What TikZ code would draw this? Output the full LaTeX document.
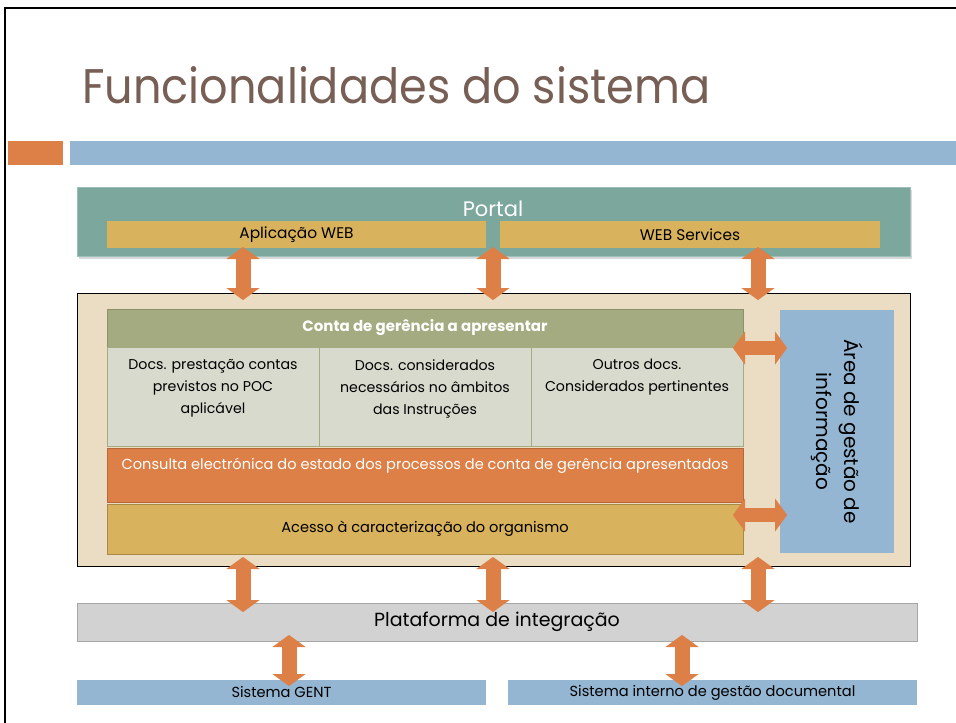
\documentclass[tikz,border=0pt]{standalone}
\usepackage{graphicx}
\usepackage{fontspec}
\setmainfont{Poppins}
\usepackage{xcolor}
\usepackage{tikz}
\usetikzlibrary{positioning, arrows.meta, shadows}

\definecolor{titlebrown}{HTML}{775F55}
\definecolor{accentorange}{HTML}{DD8047}
\definecolor{orangedark}{HTML}{B8673B}
\definecolor{skyblue}{HTML}{94B6D2}
\definecolor{portalteal}{HTML}{7BA79D}
\definecolor{tealedge}{HTML}{9CC0B7}
\definecolor{gold}{HTML}{D8B25C}
\definecolor{golddark}{HTML}{A88A45}
\definecolor{beige}{HTML}{EBDDC3}
\definecolor{olive}{HTML}{A5AB81}
\definecolor{olivedark}{HTML}{8C9268}
\definecolor{cellgrey}{HTML}{D9DACE}
\definecolor{platgrey}{HTML}{D3D2D2}
\definecolor{platedge}{HTML}{A6A6A6}

\begin{document}
\begin{tikzpicture}[x=1pt, y=-1pt,
        box/.style={rectangle, inner sep=0pt, outer sep=0pt, anchor=north west},
        small/.style={font=\fontsize{14.6}{22}\selectfont},
        celltext/.style={font=\fontsize{14.2}{22}\selectfont, align=center, anchor=north, inner sep=0pt},
        dblarrow/.style={draw=accentorange, line width=15pt,
            {Triangle[width=33pt, length=12pt, line width=0.1pt]}-{Triangle[width=33pt, length=12pt, line width=0.1pt]}}]
        \useasboundingbox (0,0) rectangle (956,723);

        % slide frame and title
        \draw [line width=2pt] (5,723) -- (5,8) -- (956,8);
        \node (title) [anchor=base west, inner sep=0pt, text=titlebrown] at (82,103) {\resizebox{628pt}{37pt}{Funcionalidades do sistema}};
        \node (accent) [box, fill=accentorange, minimum width=55pt, minimum height=24pt] at (8,141) {};
        \node (rule) [box, fill=skyblue, minimum width=886pt, minimum height=24pt, right=7pt of accent] {};

        % portal
        \node (portal) [box, fill=portalteal, draw=tealedge, minimum width=833pt, minimum height=69pt,
            drop shadow={shadow xshift=2pt, shadow yshift=-3pt, fill=black!30}] at (77,187) {};
        \node (portaltxt) [text=white, font=\fontsize{21}{24}\selectfont] at (493,209) {Portal};
        \node (app) [box, fill=gold, minimum width=379pt, minimum height=27pt, font=\fontsize{15.4}{18}\selectfont] at (107,221) {Aplicação WEB};
        \node (ws) [box, fill=gold, minimum width=380pt, minimum height=27pt, font=\fontsize{15.4}{18}\selectfont, right=14pt of app] {WEB Services};

        % organismo
        \node (org) [box, fill=beige, draw, minimum width=833pt, minimum height=273pt] at (77,293) {};
        \node (conta) [box, fill=olive, draw=olivedark, minimum width=636pt, minimum height=38pt, text=white,
            font=\bfseries\fontsize{15}{18}\selectfont] at (107,309) {Conta de gerência a apresentar};
        \node (doc1) [box, fill=cellgrey, draw=olive, minimum width=212pt, minimum height=99pt] at (107,347) {};
        \node (doc2) [box, fill=cellgrey, draw=olive, minimum width=212pt, minimum height=99pt] at (319,347) {};
        \node (doc3) [box, fill=cellgrey, draw=olive, minimum width=212pt, minimum height=99pt] at (531,347) {};
        \node (doc1txt) [celltext] at ([yshift=-12pt]doc1.north) {Docs. prestação contas\\previstos no POC\\aplicável};
        \node (doc2txt) [celltext] at ([yshift=-12pt]doc2.north) {Docs. considerados\\necessários no âmbitos\\das Instruções};
        \node (doc3txt) [celltext] at ([yshift=-12pt]doc3.north) {Outros docs.\\Considerados pertinentes};
        \node (consulta) [box, fill=accentorange, draw=orangedark, minimum width=636pt, minimum height=54pt] at (107,448) {};
        \node (consultatxt) [small, text=white] at ([yshift=-18pt]consulta.north) {Consulta electrónica do estado dos processos de conta de gerência apresentados};
        \node (acesso) [box, fill=gold, draw=golddark, minimum width=636pt, minimum height=50pt, small] at (107,504) {Acesso à caracterização do organismo};
        \node (area) [box, fill=skyblue, minimum width=114pt, minimum height=243pt] at (780,310) {};
        \node (areatxt) [rotate=-90, align=center, font=\fontsize{20}{28}\selectfont] at (area.center) {Área de gestão de\\informação};

        % integration
        \node (plat) [box, fill=platgrey, draw=platedge, minimum width=840pt, minimum height=38pt,
            font=\fontsize{19}{22}\selectfont] at (77,603) {Plataforma de integração};
        \node (gent) [box, fill=skyblue, minimum width=409pt, minimum height=25pt, small] at (77,680) {Sistema GENT};
        \node (sgd) [box, fill=skyblue, minimum width=409pt, minimum height=25pt, small] at (508,680) {Sistema interno de gestão documental};

        % arrows
        \foreach \x in {243,493,758} {
            \draw [dblarrow, shorten <=-9pt, shorten >=-7pt] (\x,0 |- portal.south) -- (\x,0 |- org.north);
            \draw [dblarrow, shorten <=-9pt, shorten >=-9pt] (\x,0 |- org.south) -- (\x,0 |- plat.north);
        }
        \draw [dblarrow, shorten <=-6pt, shorten >=-6pt] (289,0 |- plat.south) -- (289,0 |- gent.north);
        \draw [dblarrow, shorten <=-6pt, shorten >=-6pt] (682,0 |- plat.south) -- (682,0 |- sgd.north);
        \draw [dblarrow, line width=14pt, shorten <=-10pt, shorten >=-7pt] (conta.east |- 0,348) -- (area.west |- 0,348);
        \draw [dblarrow, line width=14pt, shorten <=-10pt, shorten >=-7pt] (acesso.east |- 0,515) -- (area.west |- 0,515);
    \end{tikzpicture}
\end{document}
